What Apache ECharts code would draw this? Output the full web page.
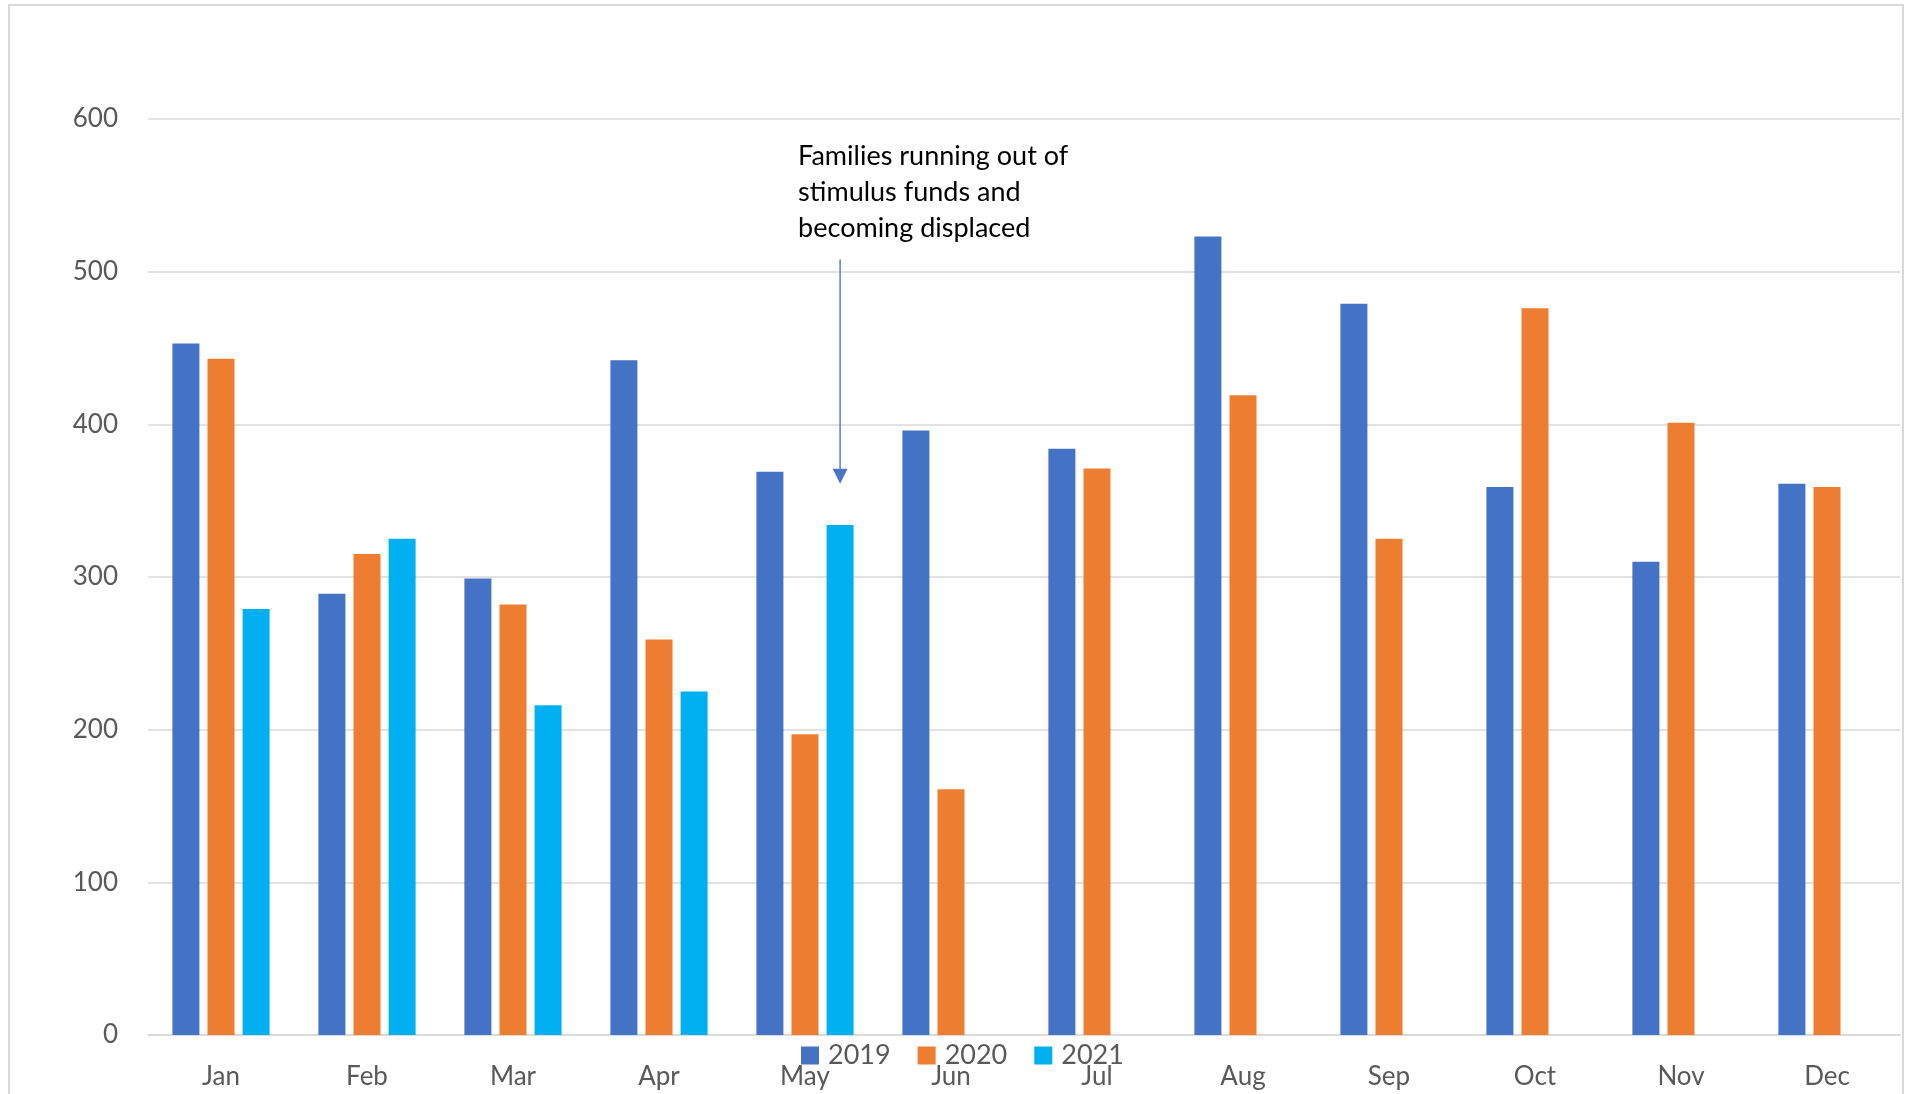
<!DOCTYPE html>
<html>
<head>
<meta charset="utf-8">
<script src="https://cdn.jsdelivr.net/npm/echarts@6/dist/echarts.min.js"></script>
<style>
html,body{margin:0;padding:0;background:#fff;}
#c{width:1906px;height:1094px;}
</style>
</head>
<body>
<div id="c"></div>
<script>
const months = ['Jan','Feb','Mar','Apr','May','Jun','Jul','Aug','Sep','Oct','Nov','Dec'];
const s2019 = [453, 289, 299, 442, 369, 396, 384, 523, 479, 359, 310, 361];
const s2020 = [443, 315, 282, 259, 197, 161, 371, 419, 325, 476, 401, 359];
const s2021 = [279, 325, 216, 225, 334, null, null, null, null, null, null, null];
const yTicks = [0, 100, 200, 300, 400, 500, 600];
const annotationLines = ['Families running out of', 'stimulus funds and', 'becoming displaced'];
const annotationMonth = 'May';
const arrowFrom = 508, arrowTo = 361;

const BAR_W = 27, BAR_GAP = 0.3;
const chart = echarts.init(document.getElementById('c'), null, {renderer:'canvas'});
const font = 'Lato, "Open Sans", sans-serif';
chart.setOption({
  animation: false,
  backgroundColor: '#fff',
  grid: {left: 148, right: 6, top: 119, bottom: 59, containLabel: false},
  legend: {
    left: 801, top: 1042, padding: 0, itemWidth: 18, itemHeight: 18, itemGap: 27,
    icon: 'rect',
    textStyle: {fontFamily: font, fontSize: 27, color: '#595959', padding: [0,0,0,4]},
    data: ['2019','2020','2021']
  },
  xAxis: {
    type: 'category', data: months,
    axisLine: {lineStyle: {color: '#d9d9d9', width: 1.5}},
    axisTick: {show: false},
    axisLabel: {fontFamily: font, fontSize: 26, color: '#595959', margin: 29}
  },
  yAxis: {
    type: 'value', min: yTicks[0], max: yTicks[yTicks.length-1], interval: 100,
    axisLine: {show: false}, axisTick: {show: false},
    splitLine: {lineStyle: {color: '#d9d9d9', width: 1.5}},
    axisLabel: {fontFamily: font, fontSize: 26, color: '#595959', margin: 30}
  },
  series: [
    {name: '2019', type: 'bar', data: s2019, barWidth: BAR_W, barGap: (BAR_GAP*100)+'%', itemStyle: {color: '#4472C4'}},
    {name: '2020', type: 'bar', data: s2020, barWidth: BAR_W, barGap: (BAR_GAP*100)+'%', itemStyle: {color: '#ED7D31'}},
    {name: '2021', type: 'bar', data: s2021, barWidth: BAR_W, barGap: (BAR_GAP*100)+'%', itemStyle: {color: '#00B0F0'}}
  ]
});

const p1 = chart.convertToPixel({xAxisIndex:0, yAxisIndex:0}, [annotationMonth, arrowFrom]);
const p2 = chart.convertToPixel({xAxisIndex:0, yAxisIndex:0}, [annotationMonth, arrowTo]);
const ax = p1[0] + BAR_W * (1 + BAR_GAP);
const headH = 15, headW = 7.5;
chart.setOption({
  graphic: [
    {type: 'rect', shape: {x: 9, y: 5, width: 1894, height: 1100}, style: {fill: 'none', stroke: '#d9d9d9', lineWidth: 2}, silent: true, z: -1},
    {type: 'line', shape: {x1: ax, y1: p1[1], x2: ax, y2: p2[1] - headH}, style: {stroke: '#5580c9', lineWidth: 1.5}},
    {type: 'polygon', shape: {points: [[ax - headW, p2[1] - headH], [ax + headW, p2[1] - headH], [ax, p2[1]]]}, style: {fill: '#4a76c6'}},
    {type: 'text', left: ax - 42, top: 138, style: {text: annotationLines.join('\n'), fontFamily: font, fontSize: 27, lineHeight: 36, fill: '#000'}}
  ]
});
</script>
</body>
</html>
